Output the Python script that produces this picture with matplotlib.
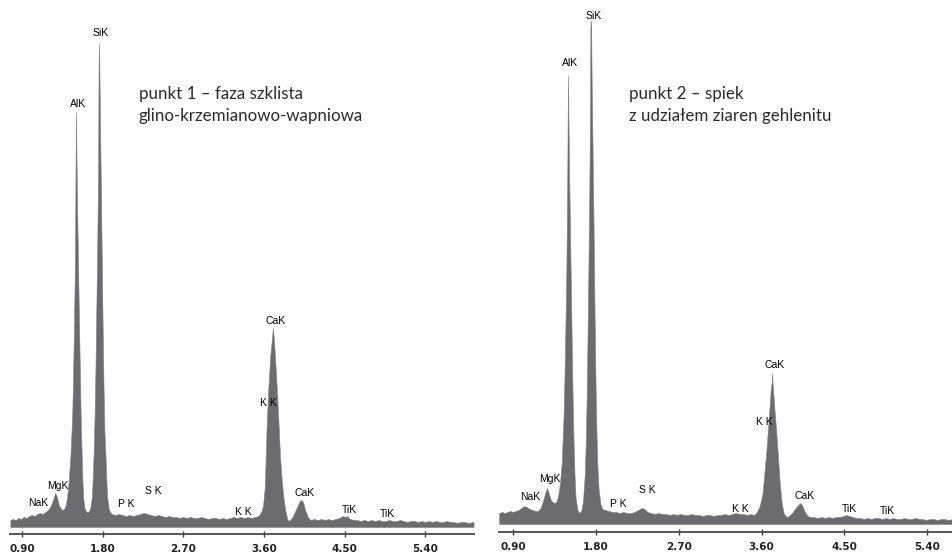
import matplotlib
matplotlib.use("Agg")
import matplotlib.pyplot as plt

# EDS spectrum, point 1 (energy keV, counts)
e1 = [0.77, 0.80, 0.83, 0.86, 0.89, 0.92, 0.95, 0.98, 1.01, 1.04, 1.07, 1.10, 1.13, 1.16,
      1.19, 1.22, 1.25, 1.27, 1.29, 1.31, 1.33, 1.35, 1.37, 1.39, 1.41, 1.42, 1.44, 1.46,
      1.47, 1.48, 1.49, 1.495, 1.499, 1.503, 1.507, 1.515, 1.525, 1.535, 1.545, 1.555, 1.565,
      1.575, 1.585, 1.60, 1.62, 1.64, 1.66, 1.68, 1.69, 1.70, 1.71, 1.72, 1.73, 1.74, 1.75,
      1.755, 1.759, 1.763, 1.77, 1.78, 1.79, 1.80, 1.81, 1.82, 1.83, 1.84, 1.85, 1.87, 1.90,
      1.94, 1.98, 2.02, 2.06, 2.10, 2.14, 2.18, 2.22, 2.26, 2.30, 2.34, 2.38, 2.42, 2.46,
      2.50, 2.54, 2.58, 2.62, 2.66, 2.70, 2.74, 2.78, 2.82, 2.86, 2.90, 2.94, 2.98, 3.02,
      3.06, 3.10, 3.14, 3.18, 3.22, 3.26, 3.30, 3.34, 3.38, 3.42, 3.46, 3.50, 3.54, 3.57,
      3.59, 3.61, 3.63, 3.65, 3.67, 3.69, 3.70, 3.71, 3.72, 3.74, 3.76, 3.78, 3.80, 3.82,
      3.84, 3.86, 3.88, 3.90, 3.92, 3.95, 3.98, 4.00, 4.02, 4.04, 4.06, 4.09, 4.12, 4.16,
      4.20, 4.24, 4.28, 4.32, 4.36, 4.40, 4.44, 4.48, 4.51, 4.53, 4.56, 4.60, 4.64, 4.68,
      4.72, 4.76, 4.80, 4.84, 4.88, 4.92, 4.96, 5.00, 5.04, 5.08, 5.12, 5.16, 5.20, 5.24,
      5.28, 5.32, 5.36, 5.40, 5.44, 5.48, 5.52, 5.56, 5.60, 5.64, 5.68, 5.72, 5.76, 5.80,
      5.84, 5.88, 5.94]
c1 = [7, 8, 7, 9, 8, 10, 9, 11, 12, 11, 13, 14, 13, 15,
      17, 21, 28, 34, 30, 22, 19, 17, 18, 22, 35, 45, 70, 110,
      150, 200, 260, 320, 377, 415, 377, 320, 265, 210, 160, 110, 75,
      45, 27, 18, 15, 15, 18, 30, 50, 75, 110, 160, 220, 285, 360,
      465, 484, 465, 410, 340, 270, 200, 140, 95, 75, 50, 30, 17, 13,
      12, 13, 12, 11, 12, 11, 12, 13, 14, 13, 12, 11, 12, 11,
      10, 11, 10, 10, 9, 10, 9, 10, 9, 9, 10, 9, 8, 9,
      9, 8, 9, 8, 9, 10, 9, 10, 9, 10, 9, 10, 11, 15,
      21, 40, 100, 140, 170, 189, 199, 189, 175, 145, 110, 70, 45, 28,
      16, 8, 6, 8, 10, 16, 22, 26, 27, 24, 17, 10, 7, 8,
      7, 8, 7, 8, 7, 8, 9, 11, 10, 11, 8, 7, 7, 6,
      7, 6, 7, 6, 7, 6, 6, 7, 6, 6, 7, 6, 5, 6,
      6, 5, 6, 5, 6, 5, 6, 5, 5, 6, 5, 5, 4, 5,
      5, 4, 5]

# EDS spectrum, point 2
e2 = [0.75, 0.78, 0.81, 0.84, 0.87, 0.90, 0.93, 0.96, 0.99, 1.02, 1.05, 1.08, 1.11, 1.14,
      1.17, 1.20, 1.23, 1.25, 1.27, 1.29, 1.31, 1.33, 1.35, 1.37, 1.39, 1.41, 1.43, 1.45,
      1.46, 1.47, 1.48, 1.485, 1.49, 1.494, 1.498, 1.502, 1.51, 1.52, 1.53, 1.54, 1.55,
      1.56, 1.57, 1.58, 1.60, 1.62, 1.64, 1.66, 1.68, 1.69, 1.70, 1.71, 1.72, 1.73, 1.737,
      1.741, 1.745, 1.749, 1.755, 1.765, 1.775, 1.785, 1.795, 1.805, 1.815, 1.83, 1.85,
      1.87, 1.90, 1.94, 1.98, 2.02, 2.06, 2.10, 2.14, 2.18, 2.22, 2.26, 2.30, 2.33, 2.36,
      2.40, 2.44, 2.48, 2.52, 2.56, 2.60, 2.64, 2.68, 2.72, 2.76, 2.80, 2.84, 2.88, 2.92,
      2.96, 3.00, 3.04, 3.08, 3.12, 3.16, 3.20, 3.24, 3.28, 3.32, 3.36, 3.40, 3.44, 3.48,
      3.52, 3.55, 3.58, 3.61, 3.63, 3.65, 3.67, 3.69, 3.70, 3.71, 3.715, 3.72, 3.73, 3.74,
      3.76, 3.78, 3.80, 3.82, 3.84, 3.86, 3.88, 3.91, 3.94, 3.97, 4.00, 4.02, 4.04, 4.07,
      4.10, 4.13, 4.17, 4.21, 4.25, 4.29, 4.33, 4.37, 4.41, 4.45, 4.49, 4.52, 4.55, 4.59,
      4.63, 4.67, 4.71, 4.75, 4.79, 4.83, 4.87, 4.91, 4.95, 4.99, 5.03, 5.07, 5.11, 5.15,
      5.19, 5.23, 5.27, 5.31, 5.35, 5.39, 5.43, 5.47, 5.51, 5.55, 5.59, 5.63, 5.68]
c2 = [11, 12, 11, 12, 13, 12, 13, 14, 16, 18, 17, 15, 14, 13,
      13, 16, 24, 31, 36, 30, 24, 22, 21, 22, 28, 40, 62, 110,
      150, 200, 255, 300, 350, 409, 449, 409, 350, 290, 230, 170, 115,
      75, 45, 26, 14, 11, 13, 22, 50, 80, 125, 190, 260, 340, 420,
      497, 504, 497, 440, 370, 300, 220, 150, 100, 62, 35, 20,
      15, 14, 13, 12, 12, 11, 12, 11, 11, 12, 14, 16, 15, 12,
      11, 10, 11, 10, 10, 9, 10, 9, 10, 9, 9, 10, 9, 9,
      8, 9, 9, 8, 9, 9, 10, 9, 10, 11, 10, 10, 9, 10,
      9, 12, 18, 30, 50, 70, 95, 120, 135, 141, 151, 141, 128, 115,
      92, 65, 38, 20, 11, 8, 7, 9, 12, 16, 19, 21, 19, 12,
      8, 7, 7, 6, 7, 6, 7, 6, 7, 7, 8, 9, 8, 7,
      6, 6, 5, 6, 5, 6, 6, 5, 6, 5, 6, 5, 5, 6,
      5, 5, 6, 5, 5, 4, 5, 5, 4, 5, 5, 4, 5]

tick_vals = [0.90, 1.80, 2.70, 3.60, 4.50, 5.40]
tick_labels = ["0.90", "1.80", "2.70", "3.60", "4.50", "5.40"]

# peak labels: text, energy, counts
lab1_txt = ["NaK", "MgK", "AlK", "SiK", "P K", "S K", "K K", "CaK", "TiK", "TiK", "CaK", "K K"]
lab1_e = [1.079, 1.302, 1.525, 1.782, 2.061, 2.362, 3.366, 4.058, 4.549, 4.974, 3.735, 3.646]
lab1_c = [24, 41, 423, 494, 23, 36, 15, 34, 17, 13, 206, 124]
lab2_txt = ["NaK", "MgK", "AlK", "SiK", "P K", "S K", "K K", "CaK", "TiK", "TiK", "CaK", "K K"]
lab2_e = [1.085, 1.302, 1.520, 1.780, 2.041, 2.357, 3.367, 4.063, 4.552, 4.965, 3.737, 3.628]
lab2_c = [27, 45, 461, 508, 20, 34, 15, 28, 15, 13, 159, 102]

title1 = ["punkt 1 \u2013 faza szklista", "glino-krzemianowo-wapniowa"]
title2 = ["punkt 2 \u2013 spiek", "z udzia\u0142em ziaren gehlenitu"]

W, H = 953, 555
fig = plt.figure(figsize=(W / 100, H / 100), dpi=100)
fill_col = "#6c6c70"
tick_font = ["Liberation Sans Narrow", "DejaVu Sans"]


def panel(rect, e, c, xlim, ylim, lab_txt, lab_e, lab_c, title, tx):
    l, r, top, bot = rect
    ax = fig.add_axes([l / W, 1 - bot / H, (r - l) / W, (bot - top) / H])
    ax.fill_between(e, c, 0, color=fill_col, linewidth=0.4, edgecolor="#808084")
    ax.set_xlim(*xlim)
    ax.set_ylim(*ylim)
    for s in ["top", "left", "right"]:
        ax.spines[s].set_visible(False)
    ax.spines["bottom"].set_color("#555555")
    ax.spines["bottom"].set_linewidth(1.4)
    ax.set_yticks([])
    ax.set_xticks(tick_vals)
    ax.set_xticklabels(tick_labels, family=tick_font, fontweight="bold", fontsize=7.5)
    ax.tick_params(axis="x", direction="inout", length=5, width=1, color="#333333",
                   pad=4.5, labelcolor="#222222")
    for t, x, y in zip(lab_txt, lab_e, lab_c):
        ax.text(x, y, t, ha="center", va="center", fontsize=7.5,
                family="Liberation Sans", color="#000000")
    fig.text(tx / W, 1 - 99 / H, title[0], fontsize=12.2, family="Lato",
             color="#2a2a2a", va="baseline")
    fig.text(tx / W, 1 - 121 / H, title[1], fontsize=12.2, family="Lato",
             color="#2a2a2a", va="baseline")
    return ax


panel((10, 474, 0, 534), e1, c1, (0.766, 5.945), (-7, 527),
      lab1_txt, lab1_e, lab1_c, title1, 139)
panel((499, 953, 0, 532), e2, c2, (0.748, 5.68), (-8, 524),
      lab2_txt, lab2_e, lab2_c, title2, 629)

fig.savefig("out.png", dpi=100)
